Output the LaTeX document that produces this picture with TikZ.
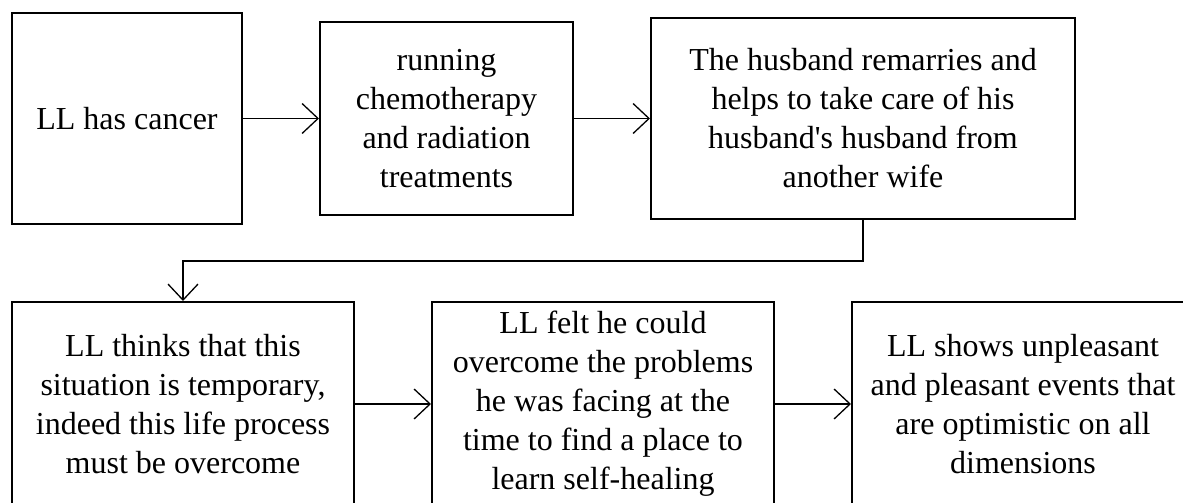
\documentclass[tikz,border=0pt]{standalone}
\usepackage{fontspec}
\setmainfont{Liberation Serif}
\usepackage{tikz}
\usetikzlibrary{arrows.meta}

\begin{document}
\begin{tikzpicture}[x=1pt, y=-1pt,
  box/.style = {draw, line width=2pt, align=center, inner sep=0pt,
    font=\fontsize{32}{39}\selectfont},
  arr/.style = {line width=1.3pt, -{Straight Barb[length=16pt, width=30pt, line width=1.3pt]}}]
\clip (0,0) rectangle (1183,503);
\fill [white] (0,0) rectangle (1183,503);
% top row
\node [box, minimum width=230pt, minimum height=211pt] (cancer) at (127,118.5) {LL has cancer};
\node [box, minimum width=253pt, minimum height=193pt] (chemo) at (446.5,118.5)
  {running\\ chemotherapy\\ and radiation\\ treatments};
\node [box, minimum width=424pt, minimum height=201pt] (husband) at (863,118.5)
  {The husband remarries and\\ helps to take care of his\\ husband\textquotesingle s husband from\\ another wife};
% bottom row
\node [box, minimum width=342pt, minimum height=204pt] (temporary) at (183,404)
  {LL thinks that this\\ situation is temporary,\\ indeed this life process\\ must be overcome};
\node [box, minimum width=342pt, minimum height=204pt] (healing) at (603,404)
  {LL felt he could\\ overcome the problems\\ he was facing at the\\ time to find a place to\\ learn self-healing};
\node [box, minimum width=342pt, minimum height=204pt] (optimistic) at (1023,404)
  {LL shows unpleasant\\ and pleasant events that\\ are optimistic on all\\ dimensions};
% arrows
\draw [arr] (cancer) -- (chemo);
\draw [arr] (chemo) -- (husband);
\draw [arr] (husband.south) -- ++(0,41) -| (temporary.north);
\draw [arr] (temporary) -- (healing);
\draw [arr] (healing) -- (optimistic);
\end{tikzpicture}
\end{document}
